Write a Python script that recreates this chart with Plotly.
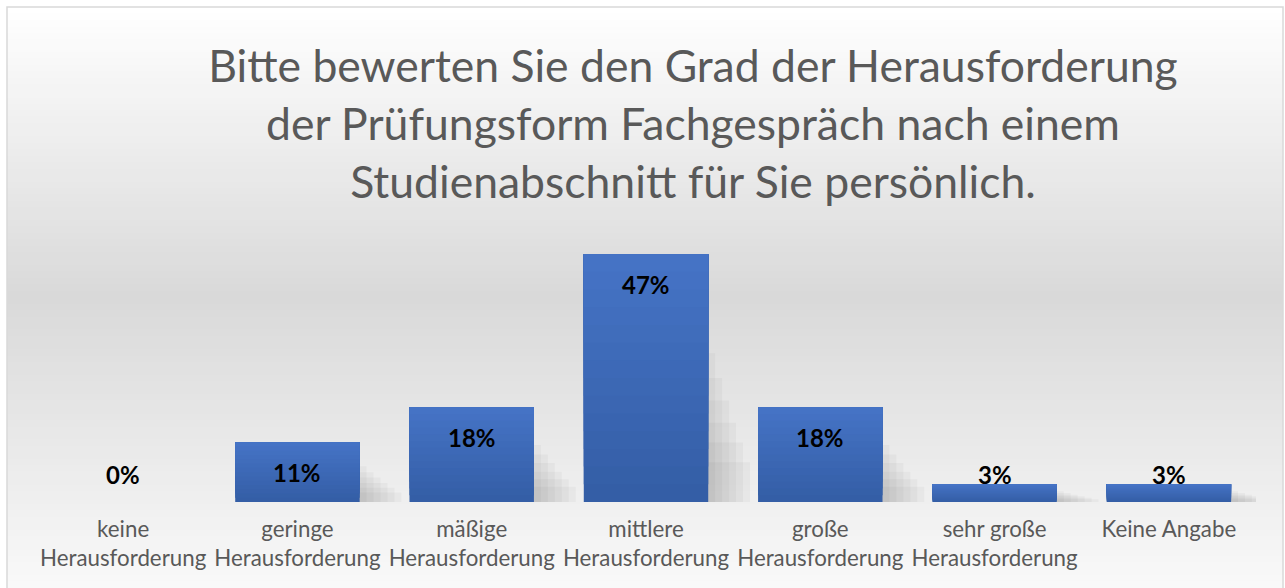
import plotly.graph_objects as go

# ---- data ----
categories = [
    "keine<br>Herausforderung",
    "geringe<br>Herausforderung",
    "mäßige<br>Herausforderung",
    "mittlere<br>Herausforderung",
    "große<br>Herausforderung",
    "sehr große<br>Herausforderung",
    "Keine Angabe",
]
values = [0, 11.4, 18.1, 47.3, 18.1, 3.4, 3.4]
title_lines = [
    "Bitte bewerten Sie den Grad der Herausforderung",
    "der Prüfungsform Fachgespräch nach einem",
    "Studienabschnitt für Sie persönlich.",
]

W, H = 1285, 588
ML, MR, MT, MB = 36, 29, 240, 86
PW, PH = W - ML - MR, H - MT - MB
YMAX = 50.0
FONT = "Lato, 'Open Sans', sans-serif"
BW = 0.714

def px2px(x):
    return (x - ML) / PW

def py2py(y):
    return (H - MB - y) / PH

fig = go.Figure()

k = PH / YMAX
# soft perspective shadows to the right of the bars
for j, (dx, hf) in enumerate([(0.04, 0.6), (0.08, 0.5), (0.12, 0.41), (0.16, 0.32), (0.20, 0.24), (0.24, 0.16)]):
    fig.add_trace(go.Bar(
        x=categories, y=[v * hf for v in values],
        marker=dict(color="rgba(0,0,0,0.03)", line=dict(width=0)),
        offset=-BW / 2 + dx, width=BW,
        hoverinfo="skip",
    ))

# bars with a vertical gradient (bottom dark -> top light)
top_c = (69, 115, 197)
bot_c = (52, 94, 166)
n = 14
for i in range(n):
    f = i / (n - 1)
    col = tuple(int(round(b + (t - b) * f)) for t, b in zip(top_c, bot_c))
    fig.add_trace(go.Bar(
        x=categories, y=[v * (1 - i / n) for v in values],
        base=[v * i / n for v in values],
        marker=dict(color=f"rgb{col}", line=dict(width=0)),
        offset=-BW / 2, width=BW,
        hoverinfo="skip",
    ))

shapes = []
# background gradient (white -> light gray -> near white)
top, bot, mid = 7, 588, 297
ns = 90
step = (bot - top) / ns
for i in range(ns):
    y0 = top + step * i
    y1 = y0 + step
    yc = (y0 + y1) / 2
    if yc <= mid:
        f = (yc - top) / (mid - top)
        g = 255 - f * (255 - 217)
    else:
        f = (yc - mid) / (bot - mid)
        g = 217 + f * (249 - 217)
    g = int(round(g))
    shapes.append(dict(
        type="rect", xref="paper", yref="paper", layer="below",
        x0=px2px(7), x1=px2px(1283), y0=py2py(y1 + 1.5), y1=py2py(y0),
        fillcolor=f"rgb({g},{g},{g})", line=dict(width=0),
    ))
shapes.append(dict(
    type="rect", xref="paper", yref="paper", layer="above",
    x0=px2px(7), x1=px2px(1283), y0=py2py(600), y1=py2py(7),
    fillcolor="rgba(0,0,0,0)", line=dict(color="#d9d9d9", width=1.5),
))

annotations = []
for c, v in zip(categories, values):
    lbl = f"<b>{v:.0f}%</b>"
    if v * k - 30 > 28:
        annotations.append(dict(x=c, y=v, xref="x", yref="y", text=lbl,
                                showarrow=False, yshift=-30, yanchor="middle",
                                font=dict(family=FONT, size=24, color="#000000")))
    else:
        annotations.append(dict(x=c, y=0, xref="x", yref="y", text=lbl,
                                showarrow=False, yshift=28, yanchor="middle",
                                font=dict(family=FONT, size=24, color="#000000")))

fig.update_layout(
    width=W, height=H,
    margin=dict(l=ML, r=MR, t=MT, b=MB, pad=0),
    paper_bgcolor="white",
    plot_bgcolor="rgba(0,0,0,0)",
    barmode="overlay",
    showlegend=False,
    title=dict(
        text="<br>".join(title_lines),
        x=693 / W, xanchor="center", xref="container",
        y=1 - 82 / H, yanchor="top", yref="container",
        font=dict(family=FONT, size=44.5, color="#595959"),
    ),
    xaxis=dict(
        range=[-0.5, len(categories) - 0.5],
        showgrid=False, zeroline=False, showline=False, ticks="",
        tickfont=dict(family=FONT, size=22.3, color="#595959"),
        ticklabelstandoff=12,
        fixedrange=True,
    ),
    yaxis=dict(range=[0, YMAX], visible=False, fixedrange=True),
    shapes=shapes,
    annotations=annotations,
)

fig.write_html("out.html")
